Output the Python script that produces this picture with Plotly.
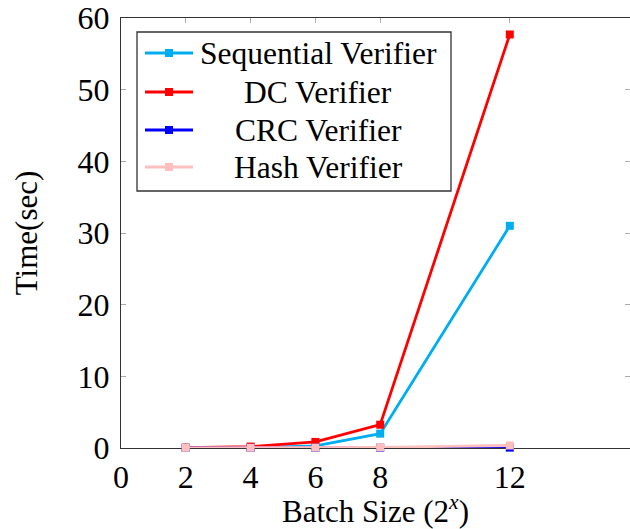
import plotly.graph_objects as go

batch_exp = [2, 4, 6, 8, 12]
sequential = [0.02, 0.05, 0.3, 2.0, 31.0]
dc = [0.05, 0.2, 0.85, 3.25, 57.7]
crc = [0.01, 0.02, 0.03, 0.05, 0.05]
hash_v = [0.02, 0.03, 0.05, 0.1, 0.35]

x_ticks = [0, 2, 4, 6, 8, 12]
y_ticks = [0, 10, 20, 30, 40, 50, 60]

series_names = ["Sequential Verifier", "DC Verifier", "CRC Verifier", "Hash Verifier"]
series_values = [sequential, dc, crc, hash_v]
series_colors = ["#00AEEF", "#FF0000", "#0000FF", "#FFBFBF"]

FONT = "Liberation Serif, Times New Roman, serif"

# plot-area geometry in pixels (for the hand-built legend)
W, H = 630, 529
L, R, T, B = 121, 0, 18, 81
PW, PH = W - L - R, H - T - B


def px(xp):
    return (xp - L) / PW


def py(yp):
    return (H - B - yp) / PH


fig = go.Figure()
for name, vals, col in zip(series_names, series_values, series_colors):
    fig.add_trace(go.Scatter(
        x=batch_exp, y=vals, name=name, mode="lines+markers",
        line=dict(color=col, width=2.8),
        marker=dict(symbol="square", size=8, color=col),
        cliponaxis=False, showlegend=False,
    ))

# legend box
shapes = [dict(type="rect", xref="paper", yref="paper",
               x0=px(137), x1=px(451), y0=py(191), y1=py(32),
               line=dict(color="#333", width=1.3), fillcolor="white", layer="above")]
annotations = []
row_y = [53, 92, 130, 167]
for name, col, ry in zip(series_names, series_colors, row_y):
    shapes.append(dict(type="line", xref="paper", yref="paper",
                       x0=px(145), x1=px(193), y0=py(ry), y1=py(ry),
                       line=dict(color=col, width=2.8), layer="above"))
    shapes.append(dict(type="rect", xref="paper", yref="paper",
                       x0=px(165), x1=px(173), y0=py(ry + 4), y1=py(ry - 4),
                       line=dict(width=0), fillcolor=col, layer="above"))
    annotations.append(dict(xref="paper", yref="paper", x=px(318), y=py(ry),
                            text=name, showarrow=False, xanchor="center", yanchor="middle",
                            font=dict(family=FONT, size=31.5, color="black")))

fig.update_layout(
    width=W, height=H,
    margin=dict(l=L, r=R, t=T, b=B),
    paper_bgcolor="white", plot_bgcolor="white",
    font=dict(family=FONT, size=30, color="black"),
    showlegend=False,
    shapes=shapes, annotations=annotations,
    xaxis=dict(
        range=[0, 15.71], tickvals=x_ticks, ticktext=[str(v) for v in x_ticks],
        ticks="inside", ticklen=5, tickcolor="#aaa", tickwidth=1,
        showline=True, linecolor="#333", linewidth=1.3, mirror="ticks",
        showgrid=False, zeroline=False, layer="below traces", automargin=False,
        tickfont=dict(family=FONT, size=32),
        title=dict(text="Batch Size (2<sup><i>x</i></sup>)", font=dict(family=FONT, size=31), standoff=8),
    ),
    yaxis=dict(
        range=[0, 60], tickvals=y_ticks,
        ticks="inside", ticklen=5, tickcolor="#aaa", tickwidth=1,
        showline=True, linecolor="#333", linewidth=1.3, mirror="ticks",
        showgrid=False, zeroline=False, layer="below traces", automargin=False,
        tickfont=dict(family=FONT, size=32), ticklabelstandoff=4,
        title=dict(text="Time(sec)", font=dict(family=FONT, size=31), standoff=30),
    ),
)

fig.write_html("out.html", config={"displayModeBar": False},
               post_script="document.body.style.margin='0';document.body.style.overflow='hidden';")
